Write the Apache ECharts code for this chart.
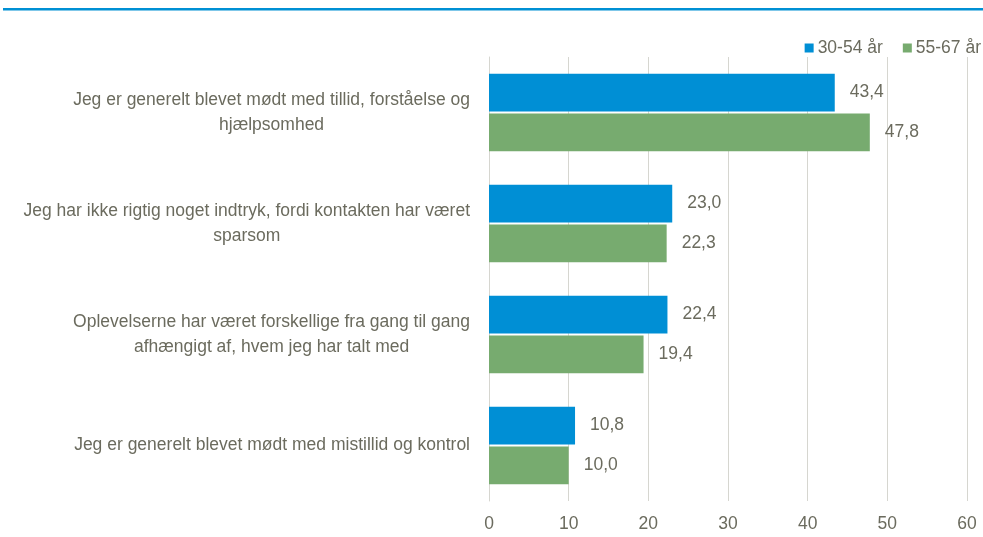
<!DOCTYPE html>
<html>
<head>
<meta charset="utf-8">
<script src="https://cdn.jsdelivr.net/npm/echarts@6/dist/echarts.min.js"></script>
<style>
  html, body { margin: 0; padding: 0; background: #fff; }
  #chart { width: 983px; height: 537px; }
</style>
</head>
<body>
<div id="chart"></div>
<script>
// kategorier (øverst først)
const categories = [
  'Jeg er generelt blevet mødt med tillid, forståelse og\nhjælpsomhed',
  'Jeg har ikke rigtig noget indtryk, fordi kontakten har været\nsparsom',
  'Oplevelserne har været forskellige fra gang til gang\nafhængigt af, hvem jeg har talt med',
  'Jeg er generelt blevet mødt med mistillid og kontrol'
]
const seriesNames = ['30-54 år', '55-67 år']
const values3054 = [43.4, 23.0, 22.4, 10.8]
const values5567 = [47.8, 22.3, 19.4, 10.0]

const textColor = '#6b6b5e'
const fontFamily = '"Liberation Sans", Arial, sans-serif'
const fontSize = 17.5

const chart = echarts.init(document.getElementById('chart'))

const labelStyle = {
  show: true,
  position: 'right',
  distance: 15,
  color: textColor,
  fontSize: fontSize,
  fontFamily: fontFamily,
  formatter: (p) => p.value.toFixed(1).replace('.', ',')
}

const option = {
  animation: false,
  graphic: [
    {
      type: 'rect',
      shape: { x: 3, y: 8, width: 980, height: 2.5 },
      style: { fill: '#0090D4' }
    }
  ],
  legend: {
    right: -3,
    top: 34,
    itemWidth: 9,
    itemHeight: 9,
    itemGap: 20,
    icon: 'rect',
    textStyle: { color: textColor, fontSize: fontSize, fontFamily: fontFamily, padding: [0, 0, 0, -1] },
    data: seriesNames
  },
  grid: {
    left: 489,
    right: 16,
    top: 57,
    bottom: 36,
    containLabel: false
  },
  xAxis: {
    type: 'value',
    min: 0,
    max: 60,
    interval: 10,
    axisLine: { show: false },
    axisTick: { show: false },
    axisLabel: { color: textColor, fontSize: fontSize, fontFamily: fontFamily, margin: 14 },
    splitLine: { lineStyle: { color: '#d6d6d0', width: 1 } }
  },
  yAxis: {
    type: 'category',
    inverse: true,
    data: categories,
    axisLine: { show: true, lineStyle: { color: '#d6d6d0', width: 1 } },
    axisTick: { show: false },
    axisLabel: {
      margin: 19,
      formatter: (v) => v.split('\n').map(s => '{c|' + s + '}').join('\n'),
      rich: {
        c: {
          color: textColor,
          fontSize: fontSize,
          fontFamily: fontFamily,
          lineHeight: 25,
          align: 'center'
        }
      }
    }
  },
  series: [
    {
      name: seriesNames[0],
      type: 'bar',
      data: values3054,
      barGap: '5%',
      barCategoryGap: '30%',
      itemStyle: { color: '#008FD5' },
      label: labelStyle
    },
    {
      name: seriesNames[1],
      type: 'bar',
      data: values5567,
      itemStyle: { color: '#77AB6F' },
      label: labelStyle
    }
  ]
}

chart.setOption(option)
</script>
</body>
</html>
